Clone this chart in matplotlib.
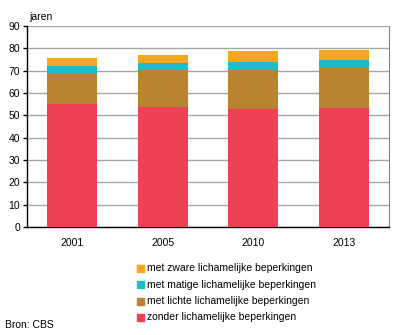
import matplotlib
matplotlib.use("Agg")
import matplotlib.pyplot as plt
from matplotlib.patches import Rectangle

years = ["2001", "2005", "2010", "2013"]
zonder = [55.1, 53.7, 52.8, 53.4]
lichte = [13.6, 16.6, 17.5, 17.9]
matige = [3.5, 3.1, 3.6, 3.6]
zware = [3.5, 3.8, 4.9, 4.4]
series = [
    ("zonder lichamelijke beperkingen", zonder, "#EF4056"),
    ("met lichte lichamelijke beperkingen", lichte, "#B9842F"),
    ("met matige lichamelijke beperkingen", matige, "#1FBCC6"),
    ("met zware lichamelijke beperkingen", zware, "#F9A61F"),
]

plt.rcParams['font.family'] = ['Liberation Sans', 'DejaVu Sans']
fs = 7.5
fig = plt.figure(figsize=(3.96, 3.35), dpi=100)
W, H = 396, 335
ax = fig.add_axes([27 / W, 1 - 227 / H, 362 / W, 201 / H])

x = range(len(years))
bottom = [0] * len(years)
for label, vals, col in series:
    ax.bar(x, vals, 0.55, bottom=bottom, color=col, label=label, zorder=3)
    bottom = [b + v for b, v in zip(bottom, vals)]

ax.set_xlim(-0.5, 3.5)
ax.set_ylim(0, 90)
ax.set_yticks(range(0, 91, 10))
ax.yaxis.grid(True, color="#A6A6A6", linewidth=1, zorder=0)
ax.set_xticks(list(x))
ax.set_xticklabels(years, fontsize=fs)
ax.tick_params(axis='y', labelsize=fs, length=3, width=1, pad=2)
ax.tick_params(axis='x', length=0, pad=8)
for s in ["left", "bottom"]:
    ax.spines[s].set_color("black")
    ax.spines[s].set_linewidth(1)
ax.spines["right"].set_color("#808080")
ax.spines["top"].set_visible(False)

fig.text(29 / W, 1 - 17 / H, "jaren", fontsize=fs, ha="left", va="center")

# legend (reverse order: top item first)
ys = [268, 284.5, 301, 317.5]
for (label, vals, col), yy in zip(series[::-1], ys):
    fig.patches.append(Rectangle((137 / W, 1 - (yy + 3.5) / H), 7 / W, 7 / H,
                                 transform=fig.transFigure, color=col, figure=fig))
    fig.text(147 / W, 1 - yy / H, label, fontsize=fs, ha="left", va="center")

fig.text(5 / W, 1 - 325 / H, "Bron: CBS", fontsize=fs, ha="left", va="center")

fig.savefig("out.png", dpi=100)
